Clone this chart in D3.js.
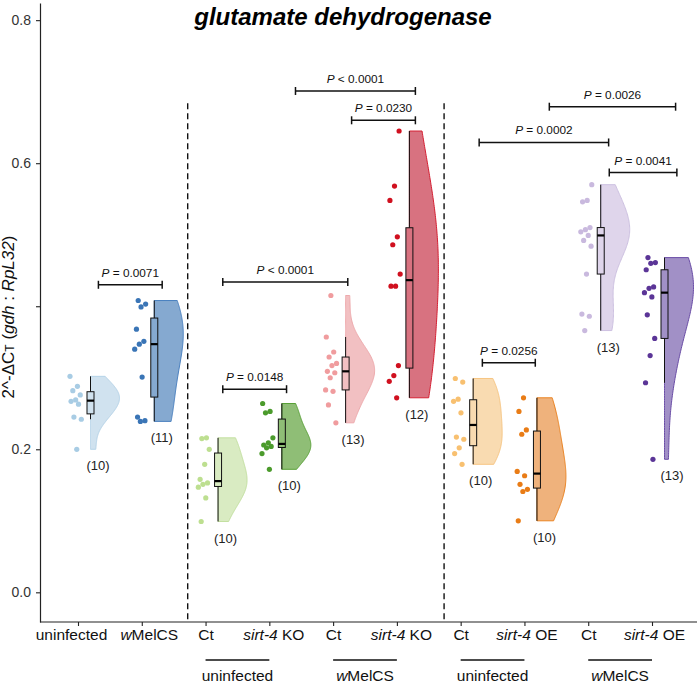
<!DOCTYPE html>
<html>
<head>
<meta charset="utf-8">
<script src="https://cdn.jsdelivr.net/npm/d3@7"></script>
<style>
  body { margin: 0; background: #fff; }
  svg { display: block; font-family: "Liberation Sans", Arial, sans-serif; }
  text { white-space: pre; }
</style>
</head>
<body>
<div class="chart"></div>
<script>
var svgWidth = 697;
var svgHeight = 684;

var margin = { top: 3, right: 0, bottom: 62, left: 40 };
var width = svgWidth - margin.left - margin.right;
var height = svgHeight - margin.top - margin.bottom;

// values, one array per cloud (2^-dCt)
var uninfected = [0.302, 0.288, 0.282, 0.276, 0.269, 0.267, 0.263, 0.245, 0.242, 0.200];
var wMelCS = [0.408, 0.403, 0.399, 0.368, 0.351, 0.347, 0.340, 0.301, 0.245, 0.240, 0.239];
var koCtUninf = [0.216, 0.215, 0.200, 0.179, 0.158, 0.153, 0.151, 0.147, 0.132, 0.099];
var koUninf = [0.264, 0.253, 0.251, 0.216, 0.209, 0.206, 0.204, 0.202, 0.194, 0.172];
var koCtWmel = [0.415, 0.357, 0.336, 0.329, 0.320, 0.317, 0.309, 0.307, 0.300, 0.283, 0.281, 0.262, 0.237];
var koWmel = [0.645, 0.568, 0.548, 0.497, 0.486, 0.445, 0.428, 0.428, 0.317, 0.303, 0.295, 0.272];
var oeCtUninf = [0.299, 0.294, 0.270, 0.267, 0.251, 0.217, 0.214, 0.202, 0.194, 0.179];
var oeUninf = [0.272, 0.253, 0.227, 0.221, 0.169, 0.163, 0.151, 0.144, 0.141, 0.100];
var oeCtWmel = [0.570, 0.548, 0.546, 0.510, 0.507, 0.504, 0.499, 0.492, 0.484, 0.445, 0.389, 0.386, 0.366];
var oeWmel = [0.468, 0.461, 0.460, 0.451, 0.427, 0.425, 0.419, 0.413, 0.388, 0.355, 0.331, 0.293, 0.186];

var groups = [uninfected, wMelCS, koCtUninf, koUninf, koCtWmel, koWmel, oeCtUninf, oeUninf, oeCtWmel, oeWmel];

// *...* = italic part
var tickLabels = ["uninfected", "*w*MelCS", "Ct", "*sirt-4* KO", "Ct", "*sirt-4* KO", "Ct", "*sirt-4* OE", "Ct", "*sirt-4* OE"];
var groupPairs = [[2, 3], [4, 5], [6, 7], [8, 9]];
var groupNames = ["uninfected", "*w*MelCS", "uninfected", "*w*MelCS"];
var dividers = [1.72, 5.74];

// significance brackets (x in category units, y in data units)
var bracketFrom = [0.32, 2.27, 2.27, 4.29, 3.41, 6.34, 6.29, 8.33, 7.39];
var bracketTo = [1.32, 3.27, 4.23, 5.29, 5.29, 7.17, 8.32, 9.39, 9.37];
var bracketY = [0.430, 0.284, 0.434, 0.660, 0.701, 0.321, 0.629, 0.587, 0.679];
var bracketText = ["*P* = 0.0071", "*P* = 0.0148", "*P* < 0.0001", "*P* = 0.0230", "*P* < 0.0001",
  "*P* = 0.0256", "*P* = 0.0002", "*P* = 0.0041", "*P* = 0.0026"];

var pointColors = ["#a8cce4", "#3a75b6", "#bddf90", "#4b9b2c", "#f09c9e", "#d0101f", "#f8c070", "#e97c16", "#c9b9de", "#5b3597"];
var fillColors = ["#d0e2ef", "#85a9d0", "#d9ebc2", "#8fbe76", "#f2c0c2", "#d87280", "#f9dbb1", "#efb27c", "#dfd5eb", "#a190c6"];
var strokeColors = ["#b5d3e8", "#4a80bf", "#c3e0a0", "#58a036", "#eeaaad", "#d52033", "#f7c582", "#ea8322", "#cdc1e1", "#6a4da6"];

// the first two labels sit a little apart from their ticks in the original
var tickNudge = [-7, 7, 0, 4, 0, 4, 0, 2, 0, 2];

function rich(sel, str) {
  str.split("*").forEach(function(part, i) {
    if (!part) return;
    sel.append("tspan").text(part).style("font-style", i % 2 ? "italic" : null);
  });
}

var svg = d3.select(".chart")
  .append("svg")
  .attr("width", svgWidth)
  .attr("height", svgHeight);

var chartGroup = svg.append("g")
  .attr("transform", `translate(${margin.left}, ${margin.top})`);

var x = d3.scaleLinear().domain([0, 9]).range([38, 612]);
var y = d3.scaleLinear().domain([-0.0415, 0.824]).range([height, 0]);

var boxShift = 12.5, boxW = 7, violinW = 29, bwAdjust = 1.4;

// dashed separators
dividers.forEach(function(d) {
  chartGroup.append("line")
    .attr("x1", x(d)).attr("x2", x(d))
    .attr("y1", y(0.684)).attr("y2", height)
    .attr("stroke", "#111").attr("stroke-width", 1.4)
    .attr("stroke-dasharray", "6,4");
});

groups.forEach(function(vals, i) {
  var s = vals.slice().sort(d3.ascending);
  var n = s.length;
  var q1 = d3.quantile(s, 0.25), med = d3.quantile(s, 0.5), q3 = d3.quantile(s, 0.75);
  var iqr = q3 - q1;
  var lo = d3.min(s.filter(v => v >= q1 - 1.5 * iqr));
  var hi = d3.max(s.filter(v => v <= q3 + 1.5 * iqr));
  var cx = x(i) + boxShift;

  // half violin, gaussian kde (nrd0 bandwidth), trimmed to data range
  var bw = bwAdjust * 0.9 * Math.min(d3.deviation(s), iqr / 1.34) * Math.pow(n, -0.2);
  var mn = s[0], mx = s[n - 1];
  var dens = d3.range(0, 121).map(function(k) {
    var v = mn + (mx - mn) * k / 120;
    return [v, d3.mean(s, p => Math.exp(-0.5 * Math.pow((v - p) / bw, 2)))];
  });
  var maxD = d3.max(dens, d => d[1]);
  var area = d3.area()
    .x0(cx)
    .x1(d => cx + violinW * d[1] / maxD)
    .y(d => y(d[0]));
  chartGroup.append("path")
    .attr("d", area(dens))
    .attr("fill", fillColors[i])
    .attr("stroke", strokeColors[i])
    .attr("stroke-width", 1);

  // box
  chartGroup.append("line")
    .attr("x1", cx).attr("x2", cx)
    .attr("y1", y(lo)).attr("y2", y(hi))
    .attr("stroke", "#111").attr("stroke-width", 1);
  chartGroup.append("rect")
    .attr("x", cx - boxW / 2).attr("width", boxW)
    .attr("y", y(q3)).attr("height", y(q1) - y(q3))
    .attr("fill", fillColors[i])
    .attr("stroke", "#111").attr("stroke-width", 1);
  chartGroup.append("line")
    .attr("x1", cx - boxW / 2).attr("x2", cx + boxW / 2)
    .attr("y1", y(med)).attr("y2", y(med))
    .attr("stroke", "#000").attr("stroke-width", 2.2);

  // jittered points to the left
  chartGroup.selectAll(null)
    .data(vals)
    .enter()
    .append("circle")
    .attr("cx", (d, j) => x(i) - 2 + 12 * (((j * 0.618034 + i * 0.37) % 1) - 0.5))
    .attr("cy", d => y(d))
    .attr("r", 2.6)
    .attr("fill", pointColors[i]);

  // n label
  chartGroup.append("text")
    .attr("x", x(i) + 20)
    .attr("y", y(mn) + 21)
    .attr("text-anchor", "middle")
    .attr("font-size", 13)
    .attr("fill", "#222")
    .text("(" + n + ")");
});

// brackets
bracketY.forEach(function(v, k) {
  var x1 = x(bracketFrom[k]), x2 = x(bracketTo[k]), yy = y(v);
  var g = chartGroup.append("g").attr("stroke", "#111").attr("stroke-width", 1.5);
  g.append("line").attr("x1", x1).attr("x2", x2).attr("y1", yy).attr("y2", yy);
  g.append("line").attr("x1", x1).attr("x2", x1).attr("y1", yy - 4).attr("y2", yy + 4);
  g.append("line").attr("x1", x2).attr("x2", x2).attr("y1", yy - 4).attr("y2", yy + 4);
  var t = chartGroup.append("text")
    .attr("x", (x1 + x2) / 2)
    .attr("y", yy - 8)
    .attr("text-anchor", "middle")
    .attr("font-size", 11.8)
    .attr("fill", "#111");
  rich(t, bracketText[k]);
});

// axes
var leftAxis = d3.axisLeft(y)
  .tickValues([0, 0.2, 0.4, 0.6, 0.8])
  .tickFormat(d => d === 0.4 ? "" : d3.format(".1f")(d))
  .tickSize(4).tickPadding(5).tickSizeOuter(0);
var yAxis = chartGroup.append("g").call(leftAxis);
yAxis.select(".domain").attr("stroke", "#222").attr("stroke-width", 1.2);
yAxis.selectAll(".tick line").attr("stroke", "#222").attr("stroke-width", 1.1);
yAxis.selectAll(".tick text")
  .attr("font-size", 14).attr("fill", "#333")
  .attr("font-family", "Liberation Sans, Arial, sans-serif");

var bottomAxis = d3.axisBottom(x)
  .tickValues(d3.range(10))
  .tickFormat("")
  .tickSize(4).tickSizeOuter(0);
var xAxis = chartGroup.append("g")
  .attr("transform", `translate(0, ${height})`)
  .call(bottomAxis);
xAxis.select(".domain").remove();
xAxis.append("line")
  .attr("x1", 0).attr("x2", width)
  .attr("stroke", "#222").attr("stroke-width", 1.2);
xAxis.selectAll(".tick line").attr("stroke", "#222").attr("stroke-width", 1.1);
xAxis.selectAll(".tick text")
  .attr("font-size", 15.5).attr("fill", "#111")
  .attr("font-family", "Liberation Sans, Arial, sans-serif")
  .attr("x", d => tickNudge[d])
  .each(function(d) { rich(d3.select(this), tickLabels[d]); });

// infection group labels under the pairs
groupPairs.forEach(function(p, k) {
  chartGroup.append("line")
    .attr("x1", x(p[0])).attr("x2", x(p[1]))
    .attr("y1", height + 38).attr("y2", height + 38)
    .attr("stroke", "#111").attr("stroke-width", 1.3);
  var t = chartGroup.append("text")
    .attr("x", (x(p[0]) + x(p[1])) / 2)
    .attr("y", height + 59)
    .attr("text-anchor", "middle")
    .attr("font-size", 15.5)
    .attr("fill", "#111");
  rich(t, groupNames[k]);
});

// y axis title
var yt = chartGroup.append("text")
  .attr("transform", "rotate(-90)")
  .attr("x", -314)
  .attr("y", -26)
  .attr("text-anchor", "middle")
  .attr("font-size", 17)
  .attr("fill", "#111");
yt.append("tspan").text("2^-\u0394C");
yt.append("tspan").text("T").attr("font-size", 12);
yt.append("tspan").text(" (");
yt.append("tspan").text("gdh").style("font-style", "italic");
yt.append("tspan").text(" : ");
yt.append("tspan").text("RpL32").style("font-style", "italic");
yt.append("tspan").text(")");

// title
svg.append("text")
  .attr("x", 343)
  .attr("y", 25)
  .attr("text-anchor", "middle")
  .attr("font-size", 24)
  .attr("font-weight", "bold")
  .attr("font-style", "italic")
  .attr("fill", "#000")
  .text("glutamate dehydrogenase");
</script>
</body>
</html>
